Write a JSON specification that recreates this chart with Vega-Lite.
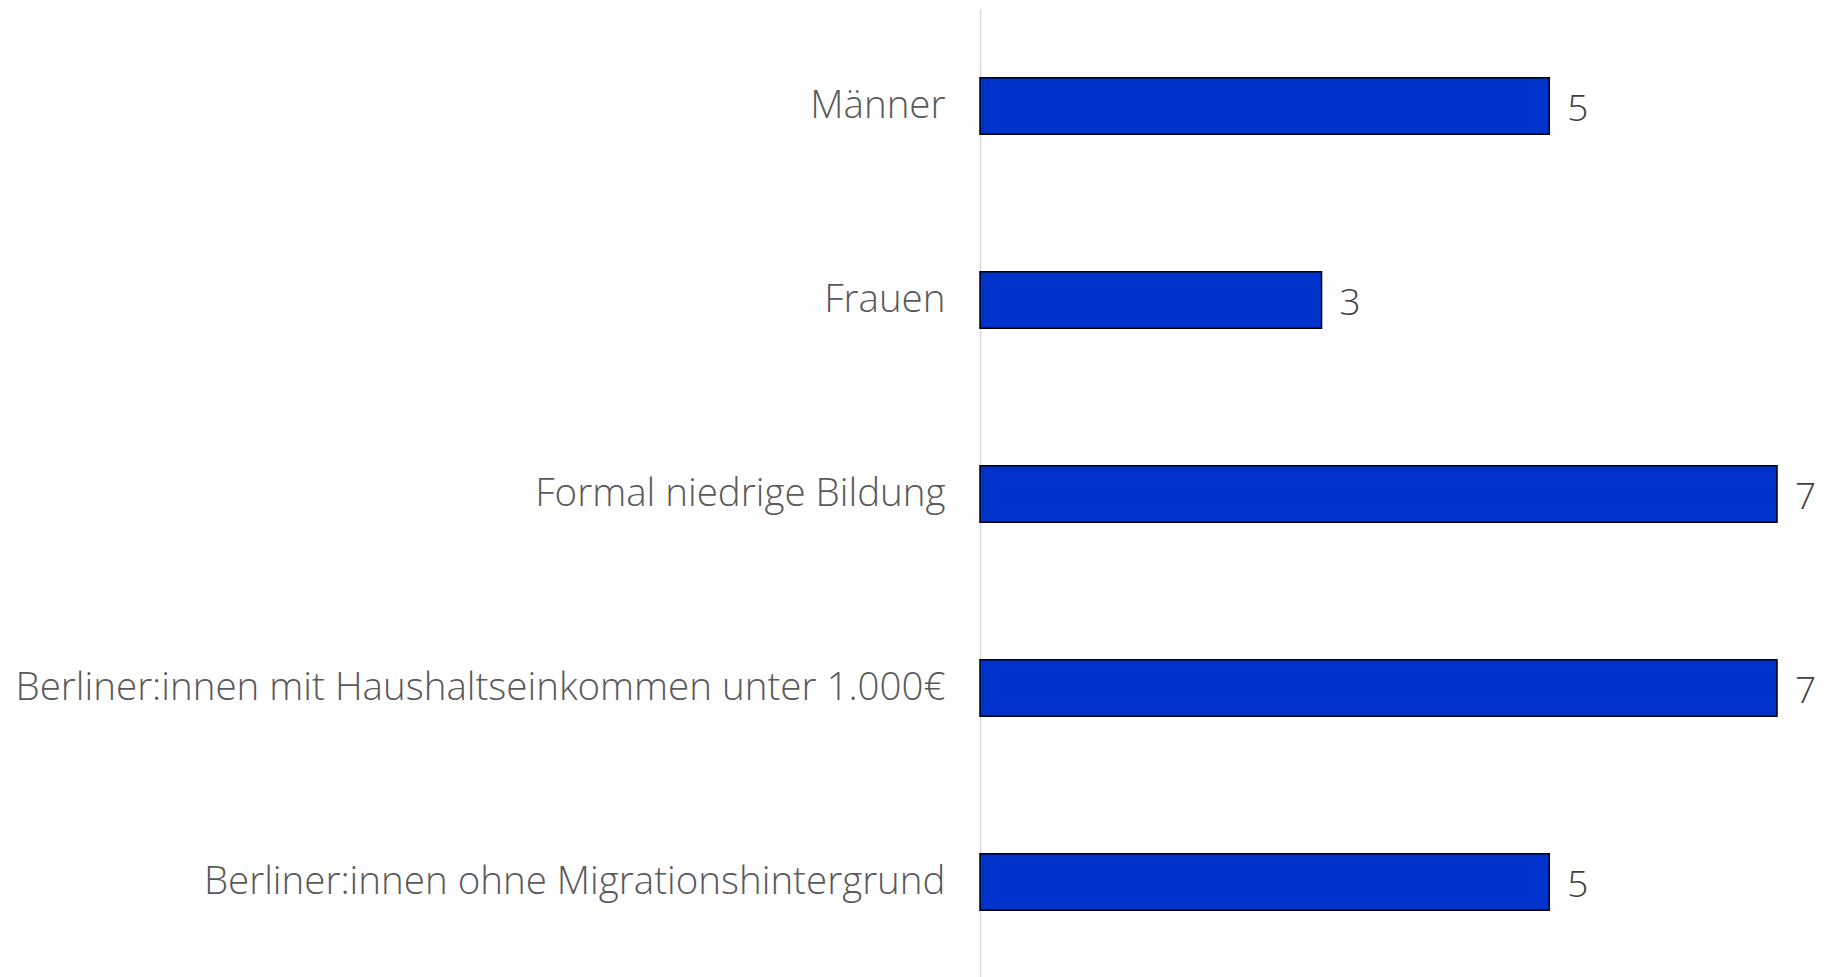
{
  "$schema": "https://vega.github.io/schema/vega-lite/v6.json",
  "width": 797,
  "height": 970,
  "autosize": {"type": "none"},
  "padding": {"left": 980, "top": 9, "right": 53, "bottom": 0},
  "background": "white",
  "config": {"view": {"stroke": null}},
  "data": {
    "values": [
      {"gruppe": "Männer", "wert": 5},
      {"gruppe": "Frauen", "wert": 3},
      {"gruppe": "Formal niedrige Bildung", "wert": 7},
      {"gruppe": "Berliner:innen mit Haushaltseinkommen unter 1.000€", "wert": 7},
      {"gruppe": "Berliner:innen ohne Migrationshintergrund", "wert": 5}
    ]
  },
  "encoding": {
    "y": {
      "field": "gruppe",
      "type": "nominal",
      "sort": null,
      "scale": {"paddingInner": 0.71, "paddingOuter": 0.355},
      "axis": {
        "title": null,
        "ticks": false,
        "domain": true,
        "domainColor": "#d9d9d9",
        "domainWidth": 1.5,
        "labelFont": "Open Sans",
        "labelFontWeight": 300,
        "labelFontSize": 38.5,
        "labelColor": "#595959",
        "labelPadding": 35,
        "labelLimit": 0
      }
    },
    "x": {
      "field": "wert",
      "type": "quantitative",
      "scale": {"domain": [0, 7], "nice": false, "zero": true},
      "axis": null
    }
  },
  "layer": [
    {
      "mark": {"type": "bar", "fill": "#0033CC", "stroke": "#000000", "strokeWidth": 1.5}
    },
    {
      "mark": {"type": "text", "align": "left", "baseline": "middle", "dx": 18, "dy": 4, "font": "Open Sans", "fontWeight": 300, "fontSize": 37, "color": "#404040"},
      "encoding": {"text": {"field": "wert", "type": "quantitative"}}
    }
  ]
}
